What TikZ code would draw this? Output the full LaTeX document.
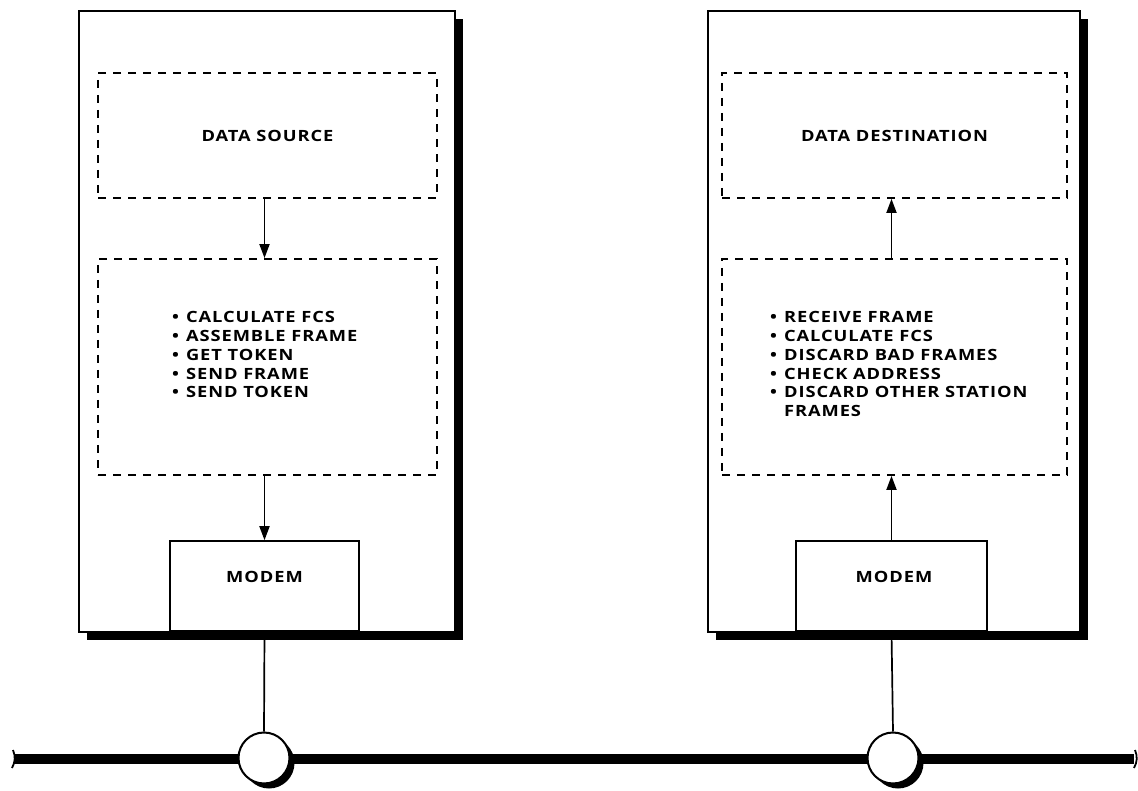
\documentclass[tikz,border=0pt]{standalone}
\usepackage{fontspec}
\newfontfamily\lblfont{Open Sans}[FakeStretch=1.18,LetterSpace=6]
\usetikzlibrary{arrows.meta,shadows}
\begin{document}
\begin{tikzpicture}[x=1pt,y=-1pt,
  lbl/.style={font=\lblfont\bfseries\fontsize{15.5}{18.7}\selectfont, inner sep=0pt},
  station/.style={draw, line width=2pt, fill=white, inner sep=0pt,
    drop shadow={shadow xshift=8pt, shadow yshift=-8pt, fill=black, opacity=1}},
  funcbox/.style={draw, line width=1.8pt, dash pattern=on 8pt off 7pt, inner sep=0pt},
  modembox/.style={draw, line width=1.8pt, fill=white, inner sep=0pt,
    minimum width=189pt, minimum height=90pt},
  tap/.style={circle, draw, line width=2pt, fill=white, inner sep=0pt, minimum size=51pt,
    drop shadow={shadow xshift=5pt, shadow yshift=-5pt, fill=black, opacity=1}},
  flow/.style={line width=1.8pt, -{Triangle[length=14pt,width=10pt]}},
  drop/.style={line width=1.7pt}
]
\useasboundingbox (0,0) rectangle (1138,791);

% bus
\coordinate (busL) at (14,759);
\coordinate (busR) at (1134,759);
\draw[line width=10pt] (busL) -- (busR);
\draw[line width=1.8pt] ([shift={(-1,-9)}]busL) to[bend left=25] ([shift={(-2,9)}]busL);
\draw[line width=1.8pt] ([shift={(1,-9)}]busR) to[bend left=25] ([shift={(0,9)}]busR);

% transmitting station
\node[station, minimum width=376pt, minimum height=621pt] (stL) at (267,321.5) {};
\node[funcbox, minimum width=339pt, minimum height=125pt] (src) at (267.5,135.5) {};
\node[funcbox, minimum width=339pt, minimum height=216pt] (procL) at (267.5,367) {};
\node[modembox, anchor=south] (modemL) at (264.5,632) {};
\node[lbl] (srcTxt) at (src) {DATA SOURCE};
\node[lbl, anchor=center] (modemLTxt) at (264.5,577) {MODEM};
\node[lbl, anchor=base west] (listL) at (172,323) {%
  \begin{tabular}[t]{@{}l@{\hspace{7pt}}l@{}}
  \textbullet & CALCULATE FCS\\
  \textbullet & ASSEMBLE FRAME\\
  \textbullet & GET TOKEN\\
  \textbullet & SEND FRAME\\
  \textbullet & SEND TOKEN
  \end{tabular}};
\draw[flow] (modemL.north |- src.south) -- (modemL.north |- procL.north);
\draw[flow] (modemL.north |- procL.south) -- (modemL.north);

% receiving station
\node[station, minimum width=372pt, minimum height=621pt] (stR) at (894,321.5) {};
\node[funcbox, minimum width=345pt, minimum height=125pt] (dst) at (894.5,135.5) {};
\node[funcbox, minimum width=345pt, minimum height=216pt] (procR) at (894.5,367) {};
\node[modembox, minimum width=191pt, anchor=south] (modemR) at (891.5,632) {};
\node[lbl] (dstTxt) at (dst) {DATA DESTINATION};
\node[lbl, anchor=center] (modemRTxt) at (894,577) {MODEM};
\node[lbl, anchor=base west] (listR) at (770,323) {%
  \begin{tabular}[t]{@{}l@{\hspace{7pt}}l@{}}
  \textbullet & RECEIVE FRAME\\
  \textbullet & CALCULATE FCS\\
  \textbullet & DISCARD BAD FRAMES\\
  \textbullet & CHECK ADDRESS\\
  \textbullet & DISCARD OTHER STATION\\
              & FRAMES
  \end{tabular}};
\draw[flow] (modemR.north |- procR.north) -- (modemR.north |- dst.south);
\draw[flow] (modemR.north) -- (modemR.north |- procR.south);

% bus taps
\node[tap] (tapL) at (264,758) {};
\node[tap] (tapR) at (893,758) {};
\draw[drop] (modemL.south) -- (tapL.north);
\draw[drop] (modemR.south) -- (tapR.north);
\end{tikzpicture}
\end{document}
